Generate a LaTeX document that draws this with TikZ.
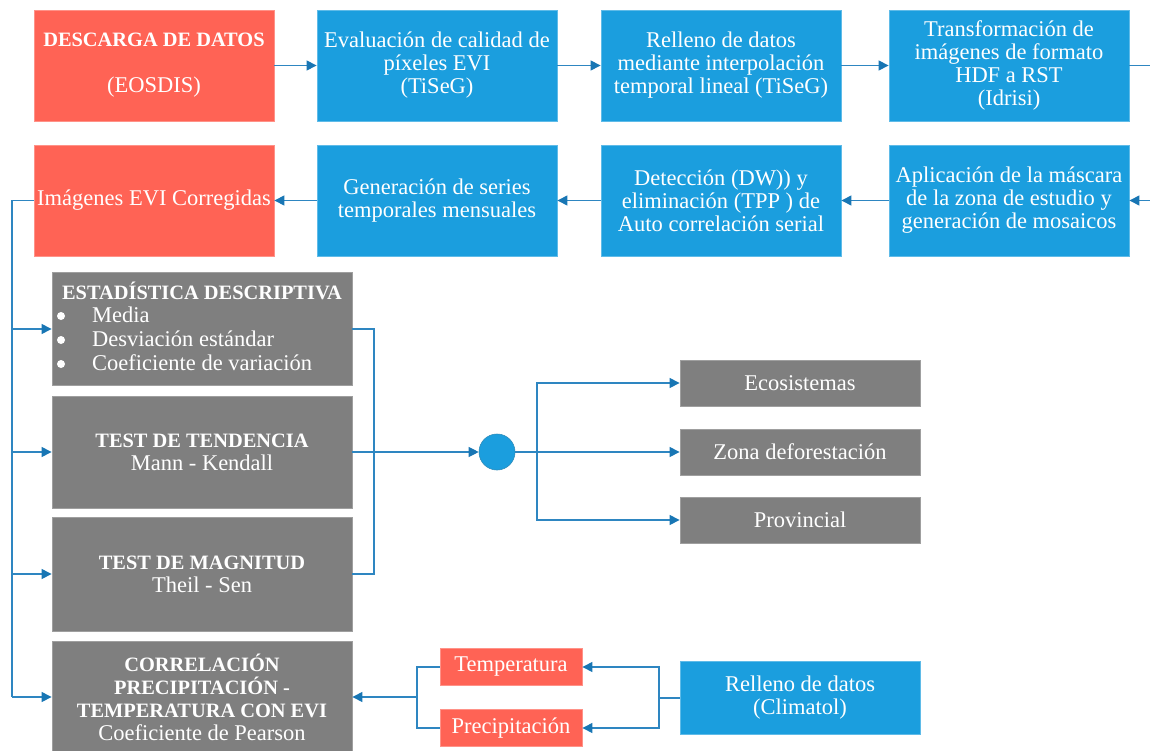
\documentclass[tikz,border=0pt]{standalone}
\usepackage{fontspec}
\setmainfont{Liberation Serif}
\usetikzlibrary{arrows.meta,calc}
\definecolor{cred}{RGB}{255,99,85}
\definecolor{cblue}{RGB}{27,158,222}
\definecolor{cgray}{RGB}{127,127,127}
\definecolor{cline}{RGB}{46,134,193}
\definecolor{ctip}{RGB}{24,118,180}
\newcommand{\fsz}{\fontsize{22.5}{23}\selectfont}
\newcommand{\bt}[1]{{\fontsize{20.4}{23}\selectfont\bfseries #1}}
\begin{document}
\begin{tikzpicture}[x=1pt,y=-1pt,
  basebox/.style={inner sep=0pt,align=center,text=white,font=\fsz,line width=0.8pt},
  redbox/.style={basebox,fill=cred,draw=cred!70!white},
  bluebox/.style={basebox,fill=cblue,draw=cblue!70!white},
  graybox/.style={basebox,fill=cgray,draw=cgray!75!white},
  bigbox/.style={minimum width=240pt,minimum height=111pt},
  gbox/.style={graybox,minimum width=300pt,minimum height=112pt},
  sbox/.style={graybox,minimum width=240pt,minimum height=46pt},
  wire/.style={draw=cline,line width=1.1pt},
  conn/.style={wire,-{Triangle[length=10pt,width=10pt,fill=ctip,color=ctip]}},
  txt/.style={inner sep=0pt,text=white,font=\fsz},
  bul/.style={circle,fill=white,inner sep=0pt,minimum size=8pt}]
\useasboundingbox (0,0) rectangle (1150,751);
% row 1
\node[redbox,bigbox] (desc) at (154,65.5) {\bt{DESCARGA DE DATOS}\\ \mbox{}\\ (EOSDIS)};
\node[bluebox,bigbox] (eval) at (437,65.5) {Evaluación de calidad de\\ píxeles EVI\\ (TiSeG)};
\node[bluebox,bigbox] (rell) at (721,65.5) {Relleno de datos\\ mediante interpolación\\ temporal lineal (TiSeG)};
\node[bluebox,bigbox] (trans) at (1009,65.5) {Transformación de\\ imágenes de formato\\ HDF a RST\\ (Idrisi)};
% row 2
\node[redbox,bigbox] (img) at (154,200.5) {Imágenes EVI Corregidas};
\node[bluebox,bigbox] (gen) at (437,200.5) {Generación de series\\ temporales mensuales};
\node[bluebox,bigbox] (det) at (721,200.5) {Detección (DW)) y\\ eliminación (TPP ) de\\ Auto correlación serial};
\node[bluebox,bigbox] (apl) at (1009,200.5) {Aplicación de la máscara\\ de la zona de estudio y\\ generación de mosaicos};
\coordinate (e1) at (1150,65.5);
\coordinate (e2) at (1150,200.5);
\draw[conn] (desc) -- (eval);
\draw[conn] (eval) -- (rell);
\draw[conn] (rell) -- (trans);
\draw[wire] (trans.east) -- (e1);
\draw[conn] (e2) -- (apl.east);
\draw[conn] (apl) -- (det);
\draw[conn] (det) -- (gen);
\draw[conn] (gen) -- (img);
% gray column
\node[gbox,minimum height=113pt] (est) at (202,329) {};
\node[txt] (estT) at (202,291) {\bt{ESTADÍSTICA DESCRIPTIVA}};
\node[bul] (b1) at (61,316) {};
\node[bul] (b2) at (61,340) {};
\node[bul] (b3) at (61,364) {};
\node[txt,anchor=west] (i1) at (92,315) {Media};
\node[txt,anchor=west] (i2) at (92,339) {Desviación estándar};
\node[txt,anchor=west] (i3) at (92,363) {Coeficiente de variación};
\node[gbox] (ten) at (202,452) {\bt{TEST DE TENDENCIA}\\ Mann - Kendall};
\node[gbox,minimum height=114pt] (mag) at (202,574) {\bt{TEST DE MAGNITUD}\\ Theil - Sen};
\node[gbox] (corr) at (202,697) {\bt{CORRELACIÓN}\\ \bt{PRECIPITACIÓN -}\\ \bt{TEMPERATURA CON EVI}\\ Coeficiente de Pearson};
% left feed
\coordinate (xL) at (12,0);
\draw[wire] (img.west) -- (img.west -| xL) -- (corr.west -| xL);
\draw[conn] (est.west -| xL) -- (est.west);
\draw[conn] (ten.west -| xL) -- (ten.west);
\draw[conn] (mag.west -| xL) -- (mag.west);
\draw[conn] (corr.west -| xL) -- (corr.west);
% right bracket and circle
\coordinate (xR) at (374,0);
\draw[wire] (est.east) -- (est.east -| xR) -- (mag.east -| xR) -- (mag.east);
\node[circle,fill=cblue,draw=cblue!80!black!90,line width=0.6pt,minimum size=36pt,inner sep=0pt] (circ) at (497,452) {};
\draw[conn] (ten.east) -- (circ.west);
\node[sbox] (eco) at (800,383) {Ecosistemas};
\node[sbox] (zona) at (800,452) {Zona deforestación};
\node[sbox] (prov) at (800,520) {Provincial};
\coordinate (xB) at (537,0);
\draw[conn] (circ.east) -- (zona.west);
\draw[conn] (circ.east -| xB) |- (eco.west);
\draw[conn] (circ.east -| xB) |- (prov.west);
% bottom
\node[bluebox,minimum width=240pt,minimum height=73pt] (clim) at (800,698) {Relleno de datos\\ (Climatol)};
\node[redbox,minimum width=142pt,minimum height=37pt] (temp) at (511,667) {Temperatura};
\node[redbox,minimum width=142pt,minimum height=37pt] (prec) at (511,728) {Precipitación};
\coordinate (xC) at (659,0);
\coordinate (xD) at (417,0);
\draw[wire] (clim.west) -- (clim.west -| xC);
\draw[conn] (clim.west -| xC) |- (temp.east);
\draw[conn] (clim.west -| xC) |- (prec.east);
\draw[wire] (temp.west) -- (temp.west -| xD) -- (prec.west -| xD) -- (prec.west);
\draw[conn] (corr.east -| xD) -- (corr.east);
\end{tikzpicture}
\end{document}
